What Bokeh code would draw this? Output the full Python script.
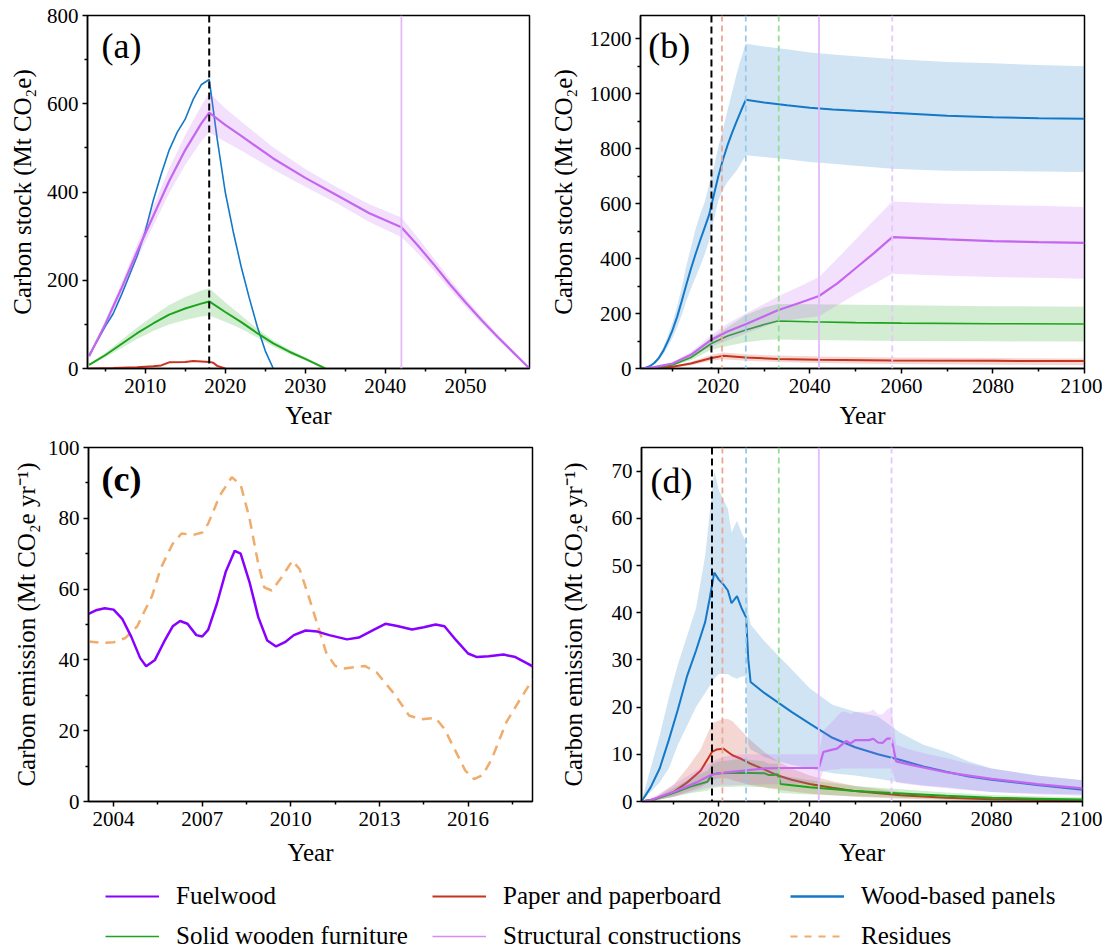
from bokeh.plotting import figure
from bokeh.models import Range1d, FixedTicker, Span, Label, Legend, LegendItem
from bokeh.layouts import column, row
from bokeh.embed import file_html
from bokeh.resources import INLINE

FONT = "Liberation Serif"
NAN = float("nan")

C_FUEL = "#8800ff"
C_PAPER = "#c8321e"
C_WBP = "#1478c8"
C_SWF = "#1ca51c"
C_SC = "#c466f0"
C_RES = "#efac6a"

# ---------------- panel (a): carbon stock of products harvested to 2018 ----------------
a_wbp_year = [2003, 2004, 2005, 2006, 2007, 2008, 2009, 2010, 2011, 2012, 2013, 2014, 2015, 2016,
              2017, 2018, 2019, 2020, 2021, 2022, 2023, 2024, 2025, 2026]
a_wbp = [30, 62, 95, 124, 165, 210, 255, 310, 380, 440, 495, 535, 565, 610,
         643, 655, 520, 400, 310, 230, 160, 95, 40, 0]

a_sc_year = [2003, 2005, 2007, 2009, 2011, 2013, 2015, 2017, 2018, 2020, 2022, 2026, 2030, 2034,
             2038, 2042, 2044, 2046, 2048, 2050, 2052, 2054, 2056, 2058]
a_sc = [28, 100, 180, 265, 345, 425, 495, 555, 580, 552, 527, 476, 432, 392,
        352, 320, 280, 237, 192, 150, 110, 72, 36, 0]
a_sc_lo = [24, 92, 168, 249, 323, 397, 461, 515, 535, 514, 494, 451, 412, 374,
           332, 298, 262, 223, 180, 140, 102, 66, 32, 0]
a_sc_hi = [32, 108, 192, 281, 367, 453, 529, 595, 625, 590, 560, 501, 452, 410,
           372, 342, 298, 251, 204, 160, 118, 78, 40, 0]

a_swf_year = [2003, 2005, 2007, 2009, 2011, 2013, 2015, 2017, 2018, 2020, 2022, 2024, 2026, 2028, 2030, 2032.5]
a_swf = [8, 30, 55, 80, 102, 122, 136, 147, 152, 128, 105, 80, 57, 38, 22, 0]
a_swf_lo = [6, 25, 46, 67, 85, 100, 110, 118, 120, 106, 90, 70, 50, 33, 18, 0]
a_swf_hi = [10, 35, 64, 93, 119, 144, 162, 176, 182, 150, 120, 90, 64, 43, 26, 0]

a_pp_year = [2003, 2006, 2009, 2011, 2012, 2013, 2015, 2016, 2018, 2018.5, 2019, 2020]
a_pp = [0, 1, 3, 5, 7, 14, 15, 17, 15, 13, 6, 0]

a_marks = [2018.0]
a_sc_mark = [2042.0]

# ---------------- panel (b): carbon stock to 2100 ----------------
b_wbp_year = [2003, 2004, 2005, 2006, 2007, 2008, 2009, 2010, 2011, 2012, 2013, 2014, 2015, 2016, 2017,
              2018, 2019, 2020, 2021, 2022, 2023, 2024, 2025, 2026, 2030, 2035, 2040, 2045, 2050, 2058,
              2065, 2070, 2080, 2090, 2100]
b_wbp = [0, 2, 8, 20, 38, 65, 100, 140, 188, 245, 305, 362, 415, 465, 512,
         560, 630, 700, 760, 812, 858, 900, 940, 978, 968, 958, 949, 943, 938, 931,
         925, 920, 915, 911, 909]
b_wbp_lo = [0, 1, 6, 15, 30, 52, 80, 112, 150, 195, 245, 290, 330, 370, 415,
            465, 540, 612, 650, 679, 700, 721, 748, 776, 770, 762, 752, 745, 738, 727,
            723, 720, 719, 717, 715]
b_wbp_hi = [0, 3, 10, 25, 46, 78, 120, 168, 226, 295, 373, 440, 506, 560, 605,
            670, 730, 806, 870, 939, 1005, 1073, 1130, 1182, 1172, 1162, 1150, 1143, 1137, 1127,
            1120, 1116, 1111, 1105, 1100]

b_sc_year = [2003, 2006, 2010, 2014, 2018.5, 2022, 2026, 2030, 2033, 2038, 2042, 2046, 2050, 2054,
             2058, 2070, 2080, 2090, 2100]
b_sc = [0, 5, 18, 50, 105, 135, 161, 190, 212, 240, 264, 310, 365, 420, 478, 470, 464, 460, 457]
b_sc_lo = [0, 4, 14, 40, 80, 102, 127, 152, 170, 182, 190, 230, 270, 308, 345, 338, 333, 330, 327]
b_sc_hi = [0, 6, 22, 60, 122, 163, 200, 235, 262, 300, 333, 400, 470, 540, 608, 600, 595, 592, 588]

b_swf_year = [2003, 2006, 2010, 2014, 2018.5, 2022, 2026, 2030, 2033, 2040, 2050, 2060, 2080, 2100]
b_swf = [0, 3, 13, 40, 91, 118, 140, 160, 173, 170, 167, 165, 163, 162]
b_swf_lo = [0, 2, 10, 30, 68, 82, 96, 104, 106, 104, 102, 100, 99, 98]
b_swf_hi = [0, 4, 16, 50, 112, 150, 195, 222, 235, 234, 232, 230, 227, 225]

b_pp_year = [2003, 2006, 2010, 2014, 2018.5, 2021, 2026, 2033, 2042, 2058, 2080, 2100]
b_pp = [0, 1, 6, 18, 38, 46, 40, 35, 32, 29, 28, 27]
b_pp_lo = [0, 0.5, 4, 12, 28, 34, 28, 24, 20, 16, 14, 12]
b_pp_hi = [0, 1.5, 8, 24, 50, 58, 52, 47, 44, 40, 38, 36]

# milestone years (black = end of record; then paper, panels, furniture, constructions)
mark_years = [2018.5, 2020.8, 2026.0, 2033.2, 2042.0, 2058.0]

# ---------------- panel (c): historical emissions ----------------
c_fuel_year = [2003.15, 2003.4, 2003.7, 2004.0, 2004.3, 2004.6, 2004.9, 2005.1, 2005.4, 2005.7, 2006.0,
               2006.25, 2006.5, 2006.8, 2007.0, 2007.2, 2007.5, 2007.8, 2008.1, 2008.3, 2008.6, 2008.9,
               2009.2, 2009.5, 2009.8, 2010.1, 2010.5, 2010.9, 2011.3, 2011.9, 2012.3, 2012.8, 2013.2,
               2013.6, 2014.1, 2014.5, 2014.9, 2015.2, 2015.6, 2016.0, 2016.3, 2016.7, 2017.2, 2017.6,
               2018.0, 2018.18]
c_fuel = [53.0, 54.0, 54.6, 54.2, 51.5, 46.5, 40.5, 38.2, 40.0, 45.0, 49.5,
          51.0, 50.2, 47.0, 46.6, 48.5, 56.0, 65.0, 70.8, 70.0, 62.0, 52.0,
          45.5, 43.8, 45.0, 47.0, 48.3, 48.0, 47.0, 45.8, 46.3, 48.5, 50.2,
          49.6, 48.6, 49.2, 50.0, 49.5, 45.5, 41.8, 40.8, 41.0, 41.5, 40.8,
          39.0, 38.2]
c_res_year = [2003.15, 2003.6, 2004.0, 2004.4, 2004.8, 2005.0, 2005.3, 2005.6, 2006.0, 2006.3, 2006.7,
              2007.0, 2007.2, 2007.6, 2008.0, 2008.3, 2008.6, 2008.9, 2009.1, 2009.35, 2009.7, 2010.05,
              2010.3, 2010.6, 2010.9, 2011.2, 2011.5, 2011.8, 2012.2, 2012.5, 2012.9, 2013.5, 2014.0,
              2014.4, 2014.9, 2015.2, 2015.5, 2015.9, 2016.2, 2016.5, 2016.8, 2017.3, 2017.8, 2018.18]
c_res = [45.2, 44.8, 45.0, 46.2, 49.5, 53.0, 58.0, 66.0, 72.8, 75.7, 75.3,
         76.0, 78.5, 86.5, 91.6, 89.5, 80.0, 67.0, 60.5, 59.6, 63.5, 68.0,
         65.6, 58.0, 50.0, 42.0, 38.3, 37.6, 38.0, 38.3, 36.5, 30.4, 24.3,
         23.2, 23.6, 20.5, 15.5, 8.8, 6.3, 7.5, 12.0, 22.5, 29.4, 34.4]

# ---------------- panel (d): projected emissions ----------------
d_wbp_year = [2003, 2005, 2007, 2009, 2011, 2013, 2015, 2017, 2018, 2019, 2020, 2021, 2022, 2022.8,
              2024, 2025, 2026, 2026.5, 2027, 2030, 2033, 2036, 2040, 2045, 2050, 2055, 2060, 2065,
              2070, 2075, 2080, 2090, 2100]
d_wbp = [0, 3, 7, 13, 19.5, 26.5, 32, 38, 43, 48.5, 47, 46, 44.7, 42,
         43.5, 41, 39, 30, 25.3, 23, 21, 19, 16.5, 13.5, 11.5, 10, 8.8, 7.4,
         6.3, 5.3, 4.6, 3.5, 2.5]
d_wbp_lo = [0, 2, 4, 7, 12, 16, 20, 23, 24.5, 26, 27, 27, 27, 26.5,
            26, 26.5, 26.5, 12, 11, 9.5, 8.5, 7.8, 7, 6, 5.5, 4.8, 4, 3.4,
            3, 2.5, 2, 1.7, 1.5]
d_wbp_hi = [0, 7, 14, 22, 29, 35, 41, 52, 61, 70, 66, 64, 62, 57,
            59.5, 57, 55, 40, 37.5, 34, 31, 28, 24, 20.5, 19, 18, 14.5, 12,
            10.5, 8.5, 7, 5.5, 4.5]

d_sc_year = [2003, 2005, 2010, 2015, 2018.5, 2021, 2025, 2030, 2035, 2042, 2043, 2045, 2046, 2047, 2048,
             2049, 2050, 2053, 2054, 2055, 2056, 2057, 2058, 2059, 2062, 2066, 2070, 2075, 2080, 2090, 2100]
d_sc = [0, 0.3, 2, 4, 5.7, 6.1, 6.5, 7, 7.1, 7.1, 10.5, 11, 11.2, 12, 12.8,
        12.3, 13, 13, 13.3, 12.5, 12.4, 13.3, 13.3, 8.5, 7.8, 7, 6.2, 5.5, 4.8, 3.7, 2.8]
d_sc_lo = [0, 0.1, 1, 2.2, 3.2, 3.4, 3.5, 3.6, 3.7, 3.9, 6.5, 6.8, 6.8, 7, 7,
           7, 7, 7, 7, 7, 7, 7, 7, 4, 3.6, 3.2, 2.8, 2.4, 2, 1.5, 1.2]
d_sc_hi = [0, 0.6, 3.5, 6.5, 8.5, 9.5, 10, 10, 10, 10, 15, 17, 18, 19, 19,
           18.5, 19, 19, 19.5, 18.5, 18.5, 19.5, 20, 12, 11, 10, 9.2, 8, 7, 5.5, 4.5]

d_swf_year = [2003, 2006, 2010, 2014, 2017.5, 2018.5, 2020, 2025, 2030, 2031, 2032, 2033, 2033.6,
              2040, 2050, 2060, 2070, 2080, 2090, 2100]
d_swf = [0, 0.5, 1.8, 3.2, 4.2, 5.8, 6, 6.1, 6, 5.6, 5.6, 5.8, 3.7, 3, 2.2, 1.7, 1.2, 0.8, 0.6, 0.4]
d_swf_lo = [0, 0.2, 1, 1.8, 2.3, 2.8, 3, 3.2, 3, 2.8, 2.8, 2.8, 1.8, 1.5, 1.1, 0.8, 0.5, 0.3, 0.2, 0.1]
d_swf_hi = [0, 0.8, 2.8, 5, 6.5, 8, 8.5, 9, 8.5, 8, 8, 8, 5.5, 4.5, 3.3, 2.6, 1.9, 1.4, 1.1, 0.9]

d_pp_year = [2003, 2006, 2010, 2013, 2016, 2018.5, 2019.5, 2021, 2022, 2023, 2025, 2027, 2030, 2033,
             2036, 2040, 2045, 2050, 2060, 2070, 2080, 2100]
d_pp = [0, 0.5, 2, 4, 6.5, 10.5, 11, 11.2, 10.5, 9.8, 9, 8, 6.8, 5.5, 4.6, 3.7, 2.9, 2.2, 1.3, 0.8, 0.5, 0.2]
d_pp_lo = [0, 0.2, 1, 2, 3, 4.5, 4.8, 5, 4.8, 4.5, 4, 3.5, 3, 2.5, 2.1, 1.7, 1.3, 1, 0.6, 0.3, 0.2, 0.05]
d_pp_hi = [0, 0.8, 3.5, 7, 11, 16.5, 17, 17.5, 17.5, 17, 15, 13, 10.5, 8.5, 7, 5.5, 4.3, 3.3, 2, 1.2, 0.8, 0.3]

legend_names = ["Fuelwood", "Paper and paperboard", "Wood-based panels",
                "Solid wooden furniture", "Structural constructions", "Residues"]

Y_STOCK = "Carbon stock (Mt CO\u2082e)"
Y_EMIS = "Carbon emission (Mt CO\u2082e yr\u207b\u00b9)"


def make_fig(xr, yr, fw, fh, bl, br, bt, bb, xt, xm, yt, ym, ylabel, ystand, xstand):
    p = figure(x_range=Range1d(*xr), y_range=Range1d(*yr), frame_width=fw, frame_height=fh,
               min_border_left=bl, min_border_right=br, min_border_top=bt, min_border_bottom=bb,
               output_backend="svg", toolbar_location=None, tools="")
    p.xgrid.visible = False
    p.ygrid.visible = False
    p.outline_line_color = "black"
    p.outline_line_width = 1.5
    p.outline_line_alpha = 1.0
    p.background_fill_color = "white"
    p.border_fill_color = "white"
    p.xaxis.ticker = FixedTicker(ticks=xt, minor_ticks=xm)
    p.yaxis.ticker = FixedTicker(ticks=yt, minor_ticks=ym)
    p.xaxis.axis_label = "Year"
    p.yaxis.axis_label = ylabel
    for ax in (p.xaxis[0], p.yaxis[0]):
        ax.axis_line_width = 1.5
        ax.axis_line_color = "black"
        ax.major_tick_line_width = 1.5
        ax.minor_tick_line_width = 1.5
        ax.major_tick_out = 5
        ax.major_tick_in = 0
        ax.minor_tick_out = 3
        ax.minor_tick_in = 0
        ax.major_label_text_font = FONT
        ax.major_label_text_font_size = "21px"
        ax.major_label_text_color = "black"
        ax.axis_label_text_font = FONT
        ax.axis_label_text_font_size = "25px"
        ax.axis_label_text_font_style = "normal"
        ax.axis_label_text_color = "black"
    p.xaxis.major_label_standoff = 5
    p.xaxis.axis_label_standoff = xstand
    p.yaxis.major_label_standoff = 4
    p.yaxis.axis_label_standoff = ystand
    return p


def band(p, x, lo, hi, color):
    p.varea(x=x, y1=lo, y2=hi, fill_color=color, fill_alpha=0.2)


def panel_label(p, x, y, text, bold=False):
    p.add_layout(Label(x=x, y=y, text=text, text_font=FONT, text_font_size="36px",
                       text_baseline="middle", text_color="black",
                       text_font_style="bold" if bold else "normal"))


def add_marks(p):
    styles = [("black", 2, "7 4"), ("#e8a898", 1.8, "6 4"), ("#98c8ea", 1.8, "6 4"),
              ("#98dc98", 1.8, "6 4"), ("#e2bcf8", 1.8, "solid"), ("#e4c8f8", 1.8, "6 4")]
    for yr, (col, w, dash) in zip(mark_years, styles):
        p.add_layout(Span(location=yr, dimension="height", line_color=col,
                          line_width=w, line_dash=dash))


# ---- (a)
pa = make_fig((2002.8, 2058), (0, 800), 442, 353, 87, 10, 15, 67,
              [2010, 2020, 2030, 2040, 2050], [2005, 2015, 2025, 2035, 2045, 2055],
              [0, 200, 400, 600, 800], [100, 300, 500, 700], Y_STOCK, 8, 6)
pa.line(a_pp_year, a_pp, line_color=C_PAPER, line_width=2)
pa.line(a_wbp_year, a_wbp, line_color=C_WBP, line_width=1.6)
band(pa, a_swf_year, a_swf_lo, a_swf_hi, C_SWF)
pa.line(a_swf_year, a_swf, line_color=C_SWF, line_width=2)
band(pa, a_sc_year, a_sc_lo, a_sc_hi, C_SC)
pa.line(a_sc_year, a_sc, line_color=C_SC, line_width=2.2)
pa.add_layout(Span(location=a_sc_mark[0], dimension="height", line_color="#e2bcf8", line_width=1.8))
pa.add_layout(Span(location=a_marks[0], dimension="height", line_color="black", line_width=2, line_dash="7 4"))
panel_label(pa, 2004.55, 732, "(a)")

# ---- (b)
pb = make_fig((2003, 2100), (0, 1285), 444, 353, 101, 18, 15, 67,
              [2020, 2040, 2060, 2080, 2100], [2010, 2030, 2050, 2070, 2090],
              [0, 200, 400, 600, 800, 1000, 1200], [100, 300, 500, 700, 900, 1100], Y_STOCK, 10, 6)
band(pb, b_pp_year, b_pp_lo, b_pp_hi, C_PAPER)
pb.line(b_pp_year, b_pp, line_color=C_PAPER, line_width=2)
band(pb, b_wbp_year, b_wbp_lo, b_wbp_hi, C_WBP)
pb.line(b_wbp_year, b_wbp, line_color=C_WBP, line_width=2)
band(pb, b_swf_year, b_swf_lo, b_swf_hi, C_SWF)
pb.line(b_swf_year, b_swf, line_color=C_SWF, line_width=1.6)
band(pb, b_sc_year, b_sc_lo, b_sc_hi, C_SC)
pb.line(b_sc_year, b_sc, line_color=C_SC, line_width=2.2)
add_marks(pb)
panel_label(pb, 2004.7, 1175, "(b)")

# ---- (c)
pc = make_fig((2003.15, 2018.18), (0, 100), 444, 354, 88, 10, 12, 71,
              [2004, 2007, 2010, 2013, 2016], [2005.5, 2008.5, 2011.5, 2014.5, 2017.5],
              [0, 20, 40, 60, 80, 100], [10, 30, 50, 70, 90], Y_EMIS, 5, 10)
pc.line(c_res_year, c_res, line_color=C_RES, line_width=2.5, line_dash="10 7")
pc.line(c_fuel_year, c_fuel, line_color=C_FUEL, line_width=2.5)
panel_label(pc, 2003.59, 91, "(c)", bold=True)

# ---- (d)
pd_ = make_fig((2003, 2100), (0, 75), 441, 354, 99, 20, 9, 74,
               [2020, 2040, 2060, 2080, 2100], [2010, 2030, 2050, 2070, 2090],
               [0, 10, 20, 30, 40, 50, 60, 70], [], Y_EMIS, 22, 10)
band(pd_, d_pp_year, d_pp_lo, d_pp_hi, C_PAPER)
pd_.line(d_pp_year, d_pp, line_color=C_PAPER, line_width=2)
band(pd_, d_wbp_year, d_wbp_lo, d_wbp_hi, C_WBP)
pd_.line(d_wbp_year, d_wbp, line_color=C_WBP, line_width=2)
band(pd_, d_swf_year, d_swf_lo, d_swf_hi, C_SWF)
pd_.line(d_swf_year, d_swf, line_color=C_SWF, line_width=2)
band(pd_, d_sc_year, d_sc_lo, d_sc_hi, C_SC)
pd_.line(d_sc_year, d_sc, line_color=C_SC, line_width=2.2)
add_marks(pd_)
panel_label(pd_, 2005.0, 67.8, "(d)")

# ---- legend strip
pl = figure(width=1102, height=78, x_range=Range1d(0, 1), y_range=Range1d(0, 1), min_border=0,
            output_backend="svg", toolbar_location=None, tools="",
            x_axis_location=None, y_axis_location=None)
pl.xgrid.visible = False
pl.ygrid.visible = False
pl.outline_line_color = None
empty_x = [NAN, NAN]
empty_y = [NAN, NAN]
r_fuel = pl.line(x=empty_x, y=empty_y, line_color=C_FUEL, line_width=2.2)
r_pp = pl.line(x=empty_x, y=empty_y, line_color=C_PAPER, line_width=2.2)
r_wbp = pl.line(x=empty_x, y=empty_y, line_color=C_WBP, line_width=2.6)
r_swf = pl.line(x=empty_x, y=empty_y, line_color=C_SWF, line_width=1.5)
r_sc = pl.line(x=empty_x, y=empty_y, line_color="#d68cf4", line_width=1.5)
r_res = pl.line(x=empty_x, y=empty_y, line_color=C_RES, line_width=2.2, line_dash="7 7")
pairs = [((r_fuel, r_swf), (legend_names[0], legend_names[3]), 105),
         ((r_pp, r_sc), (legend_names[1], legend_names[4]), 432),
         ((r_wbp, r_res), (legend_names[2], legend_names[5]), 790)]
for (ra, rb), (la, lb), lx in pairs:
    leg = Legend(items=[LegendItem(label=la, renderers=[ra]), LegendItem(label=lb, renderers=[rb])],
                 location=(lx, 0), glyph_width=54, glyph_height=20, label_standoff=17,
                 label_height=20, spacing=12, padding=0, margin=0,
                 border_line_color=None, background_fill_alpha=0,
                 label_text_font=FONT, label_text_font_size="25px", label_text_color="black")
    pl.add_layout(leg)

layout = column(row(pa, pb), row(pc, pd_), pl)
open("out.html", "w").write(file_html(layout, INLINE, title="Carbon stock and emission"))
